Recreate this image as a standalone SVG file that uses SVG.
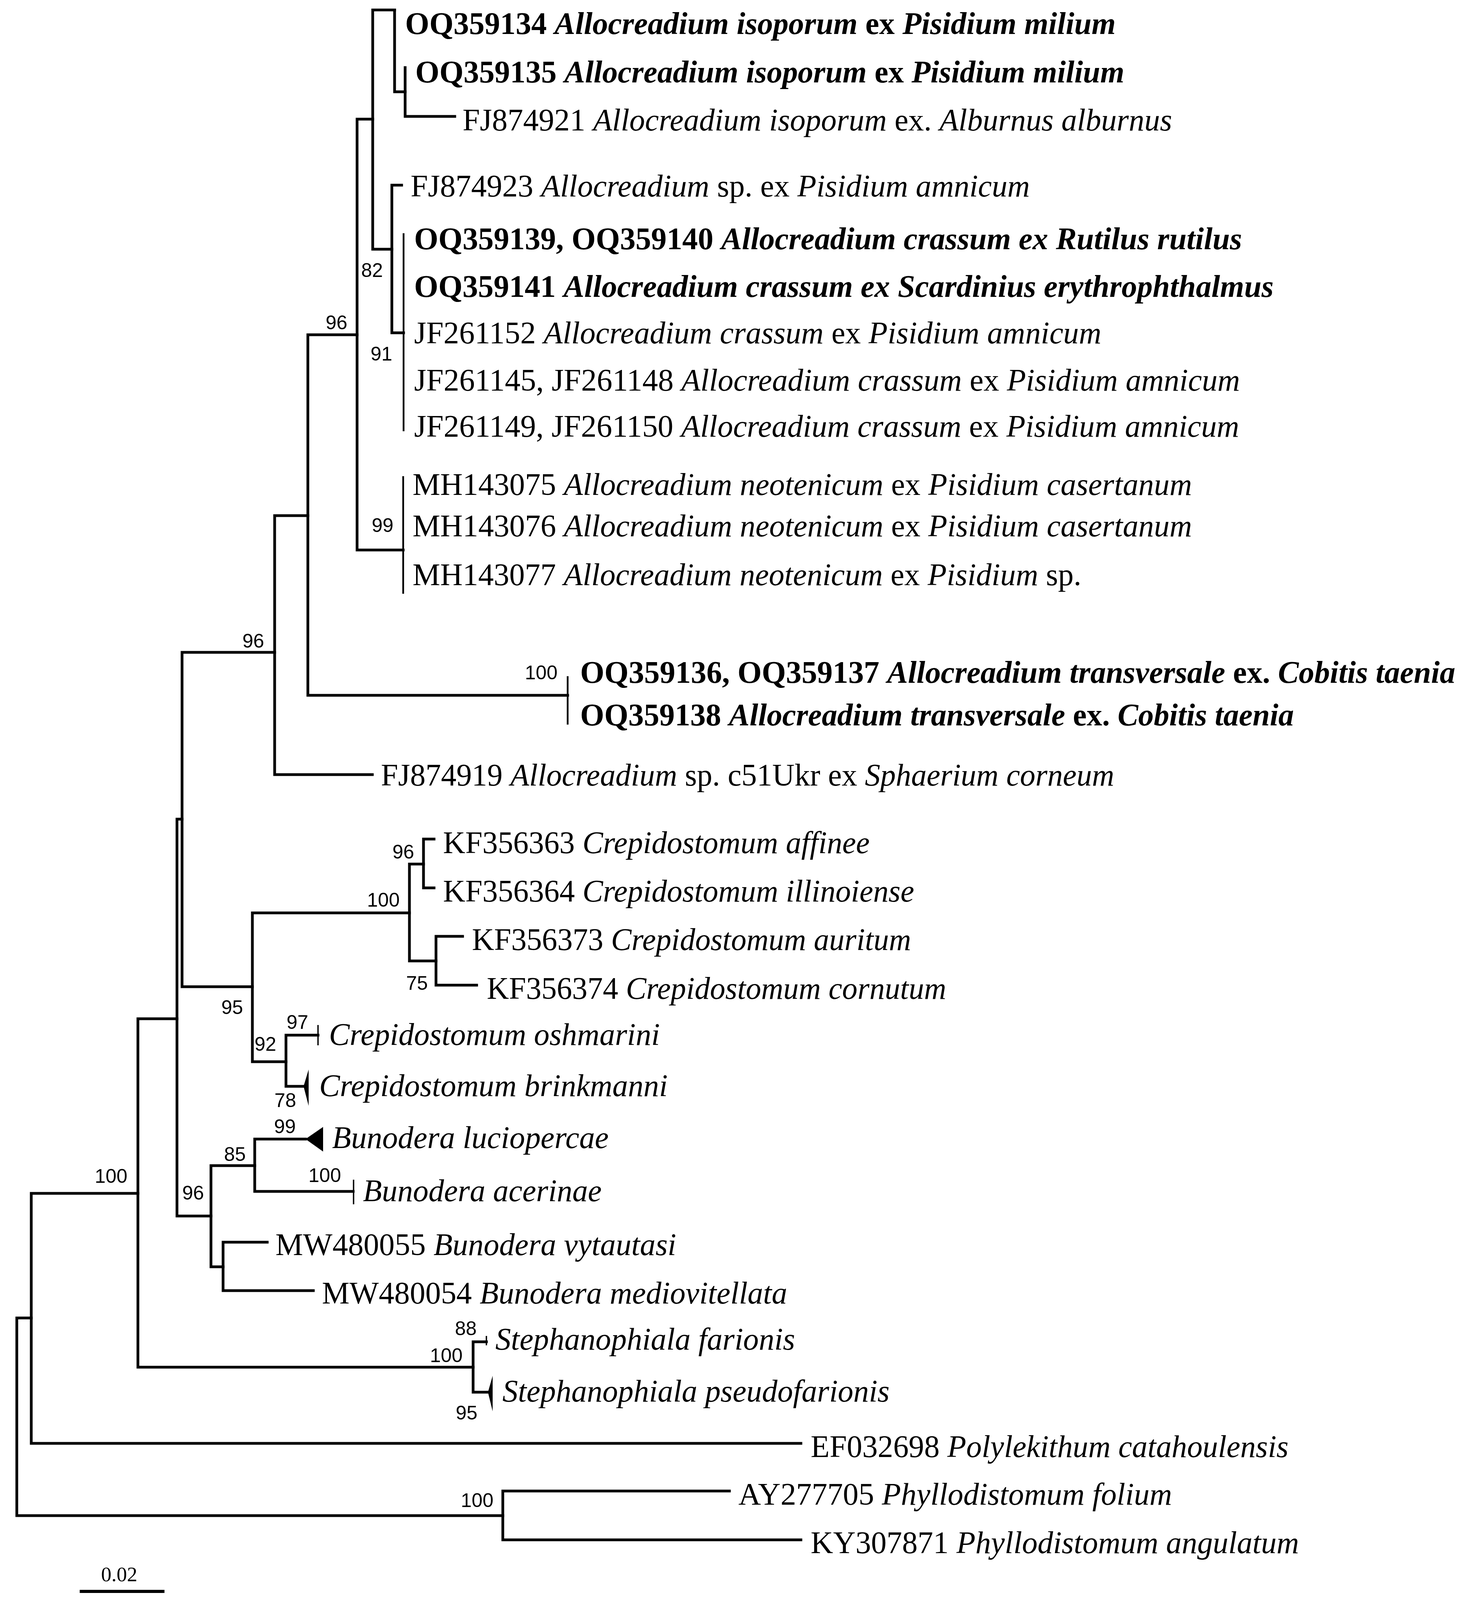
<svg xmlns="http://www.w3.org/2000/svg" width="3755" height="4187" viewBox="0 0 3755 4187">
<style>
.br{fill:none;stroke:#000;stroke-width:7;stroke-linecap:square;stroke-linejoin:miter}
.thin{fill:none;stroke:#000;stroke-width:4.5}
.tk{fill:none;stroke:#000;stroke-width:3.5}
.tri{fill:#000;stroke:none}
.lab{font-family:"Liberation Serif","Times New Roman",serif;font-size:80px;fill:#000}
.b{font-weight:bold}
.i{font-style:italic}
.bs{font-family:"Liberation Sans",Arial,sans-serif;font-size:50px;fill:#000;text-anchor:end}
</style>
<rect width="3755" height="4187" fill="#fff"/>
<g id="connectors">
<path class="br" d="M80,3374 H43 V3880 H1287"/>
<path class="br" d="M353,3055 H80 V3695 H2050"/>
<path class="br" d="M1867,3817 H1287 V3942 H2050"/>
<path class="br" d="M453,2608 H353 V3500 H1211"/>
<path class="br" d="M466,2097 H453 V3113 H540"/>
<path class="br" d="M703,1670 H466 V2526 H646"/>
<path class="br" d="M788,1320 H703 V1983 H953"/>
<path class="br" d="M914,857 H788 V1780 H1453"/>
<path class="thin" d="M1453,1731 V1855"/>
<path class="br" d="M954,305 H914 V1408 H1032"/>
<path class="thin" d="M1032,1219 V1520"/>
<path class="br" d="M1010,25.5 H954 V638 H1003"/>
<path class="br" d="M1010,25.5 V235 H1037"/>
<path class="br" d="M1037,173 V298 H1164"/>
<path class="br" d="M1028,474 H1003 V852 H1033"/>
<path class="thin" d="M1033,597 V1104"/>
<path class="br" d="M1048,2337 H646 V2718 H732"/>
<path class="br" d="M1084,2212 H1048 V2460 H1116"/>
<path class="br" d="M1111,2148 H1084 V2273 H1111"/>
<path class="br" d="M1184,2397 H1116 V2522 H1220"/>
<path class="br" d="M814,2650 H732 V2781 H777"/>
<path class="tk" d="M814,2624 V2676"/>
<path class="tri" d="M777,2781 L790,2738 L790,2831 Z"/>
<path class="br" d="M652,2984 H540 V3243 H571"/>
<path class="br" d="M782,2916 H652 V3050 H904"/>
<path class="tri" d="M782,2916 L827,2885 L827,2948 Z"/>
<path class="tk" d="M905,3020 V3083"/>
<path class="br" d="M684,3180 H571 V3304 H802"/>
<path class="br" d="M1245,3435 H1211 V3564 H1249"/>
<path class="tk" d="M1245,3420 V3444"/>
<path class="tri" d="M1249,3564 L1261,3522 L1261,3613 Z"/>
</g>
<g id="bootstrap">
<text class="bs" x="980" y="709">82</text>
<text class="bs" x="1004" y="923">91</text>
<text class="bs" x="1007" y="1362">99</text>
<text class="bs" x="889" y="843">96</text>
<text class="bs" x="1427" y="1739">100</text>
<text class="bs" x="676" y="1658">96</text>
<text class="bs" x="1060" y="2198">96</text>
<text class="bs" x="1023" y="2321">100</text>
<text class="bs" x="1095" y="2534">75</text>
<text class="bs" x="622" y="2596">95</text>
<text class="bs" x="789" y="2634">97</text>
<text class="bs" x="707" y="2690">92</text>
<text class="bs" x="758" y="2834">78</text>
<text class="bs" x="757" y="2901">99</text>
<text class="bs" x="629" y="2972">85</text>
<text class="bs" x="873" y="3026">100</text>
<text class="bs" x="522" y="3071">96</text>
<text class="bs" x="326" y="3028">100</text>
<text class="bs" x="1220" y="3418">88</text>
<text class="bs" x="1184" y="3487">100</text>
<text class="bs" x="1222" y="3634">95</text>
<text class="bs" x="1263" y="3858">100</text>
</g>
<g id="taxon-OQ359134"><text class="lab b" x="1037" y="87" textLength="1819" lengthAdjust="spacingAndGlyphs">OQ359134 <tspan class="i">Allocreadium isoporum</tspan> ex <tspan class="i">Pisidium milium</tspan></text></g>
<g id="taxon-OQ359135"><text class="lab b" x="1063" y="211" textLength="1815" lengthAdjust="spacingAndGlyphs">OQ359135 <tspan class="i">Allocreadium isoporum</tspan> ex <tspan class="i">Pisidium milium</tspan></text></g>
<g id="taxon-FJ874921"><text class="lab" x="1184" y="334" textLength="1816" lengthAdjust="spacingAndGlyphs">FJ874921 <tspan class="i">Allocreadium isoporum</tspan> ex. <tspan class="i">Alburnus alburnus</tspan></text></g>
<g id="taxon-FJ874923"><text class="lab" x="1051" y="503" textLength="1585" lengthAdjust="spacingAndGlyphs">FJ874923 <tspan class="i">Allocreadium</tspan> sp. ex <tspan class="i">Pisidium amnicum</tspan></text></g>
<g id="taxon-OQ359139"><text class="lab b" x="1060" y="638" textLength="2119" lengthAdjust="spacingAndGlyphs">OQ359139, OQ359140 <tspan class="i">Allocreadium crassum ex Rutilus rutilus</tspan></text></g>
<g id="taxon-OQ359141"><text class="lab b" x="1060" y="760" textLength="2200" lengthAdjust="spacingAndGlyphs">OQ359141 <tspan class="i">Allocreadium crassum ex Scardinius erythrophthalmus</tspan></text></g>
<g id="taxon-JF261152"><text class="lab" x="1060" y="879" textLength="1759" lengthAdjust="spacingAndGlyphs">JF261152 <tspan class="i">Allocreadium crassum</tspan> ex <tspan class="i">Pisidium amnicum</tspan></text></g>
<g id="taxon-JF261145"><text class="lab" x="1060" y="1000" textLength="2114" lengthAdjust="spacingAndGlyphs">JF261145, JF261148 <tspan class="i">Allocreadium crassum</tspan> ex <tspan class="i">Pisidium amnicum</tspan></text></g>
<g id="taxon-JF261149"><text class="lab" x="1060" y="1118" textLength="2112" lengthAdjust="spacingAndGlyphs">JF261149, JF261150 <tspan class="i">Allocreadium crassum</tspan> ex <tspan class="i">Pisidium amnicum</tspan></text></g>
<g id="taxon-MH143075"><text class="lab" x="1056" y="1267" textLength="1995" lengthAdjust="spacingAndGlyphs">MH143075 <tspan class="i">Allocreadium neotenicum</tspan> ex <tspan class="i">Pisidium casertanum</tspan></text></g>
<g id="taxon-MH143076"><text class="lab" x="1056" y="1373" textLength="1995" lengthAdjust="spacingAndGlyphs">MH143076 <tspan class="i">Allocreadium neotenicum</tspan> ex <tspan class="i">Pisidium casertanum</tspan></text></g>
<g id="taxon-MH143077"><text class="lab" x="1056" y="1498" textLength="1712" lengthAdjust="spacingAndGlyphs">MH143077 <tspan class="i">Allocreadium neotenicum</tspan> ex <tspan class="i">Pisidium</tspan> sp.</text></g>
<g id="taxon-OQ359136"><text class="lab b" x="1485" y="1748" textLength="2240" lengthAdjust="spacingAndGlyphs">OQ359136, OQ359137 <tspan class="i">Allocreadium transversale</tspan> ex. <tspan class="i">Cobitis taenia</tspan></text></g>
<g id="taxon-OQ359138"><text class="lab b" x="1485" y="1857" textLength="1827" lengthAdjust="spacingAndGlyphs">OQ359138 <tspan class="i">Allocreadium transversale</tspan> ex. <tspan class="i">Cobitis taenia</tspan></text></g>
<g id="taxon-FJ874919"><text class="lab" x="975" y="2011" textLength="1877" lengthAdjust="spacingAndGlyphs">FJ874919 <tspan class="i">Allocreadium</tspan> sp. c51Ukr ex <tspan class="i">Sphaerium corneum</tspan></text></g>
<g id="taxon-KF356363"><text class="lab" x="1134" y="2184" textLength="1092" lengthAdjust="spacingAndGlyphs">KF356363 <tspan class="i">Crepidostomum affinee</tspan></text></g>
<g id="taxon-KF356364"><text class="lab" x="1134" y="2308" textLength="1206" lengthAdjust="spacingAndGlyphs">KF356364 <tspan class="i">Crepidostomum illinoiense</tspan></text></g>
<g id="taxon-KF356373"><text class="lab" x="1208" y="2432" textLength="1124" lengthAdjust="spacingAndGlyphs">KF356373 <tspan class="i">Crepidostomum auritum</tspan></text></g>
<g id="taxon-KF356374"><text class="lab" x="1246" y="2557" textLength="1176" lengthAdjust="spacingAndGlyphs">KF356374 <tspan class="i">Crepidostomum cornutum</tspan></text></g>
<g id="taxon-C-oshmarini"><text class="lab i" x="842" y="2675" textLength="847" lengthAdjust="spacingAndGlyphs">Crepidostomum oshmarini</text></g>
<g id="taxon-C-brinkmanni"><text class="lab i" x="817" y="2806" textLength="892" lengthAdjust="spacingAndGlyphs">Crepidostomum brinkmanni</text></g>
<g id="taxon-B-luciopercae"><text class="lab i" x="850" y="2939" textLength="708" lengthAdjust="spacingAndGlyphs">Bunodera luciopercae</text></g>
<g id="taxon-B-acerinae"><text class="lab i" x="929" y="3075" textLength="611" lengthAdjust="spacingAndGlyphs">Bunodera acerinae</text></g>
<g id="taxon-MW480055"><text class="lab" x="705" y="3213" textLength="1026" lengthAdjust="spacingAndGlyphs">MW480055 <tspan class="i">Bunodera vytautasi</tspan></text></g>
<g id="taxon-MW480054"><text class="lab" x="824" y="3337" textLength="1191" lengthAdjust="spacingAndGlyphs">MW480054 <tspan class="i">Bunodera mediovitellata</tspan></text></g>
<g id="taxon-S-farionis"><text class="lab i" x="1268" y="3455" textLength="767" lengthAdjust="spacingAndGlyphs">Stephanophiala farionis</text></g>
<g id="taxon-S-pseudofarionis"><text class="lab i" x="1286" y="3588" textLength="991" lengthAdjust="spacingAndGlyphs">Stephanophiala pseudofarionis</text></g>
<g id="taxon-EF032698"><text class="lab" x="2075" y="3730" textLength="1223" lengthAdjust="spacingAndGlyphs">EF032698 <tspan class="i">Polylekithum catahoulensis</tspan></text></g>
<g id="taxon-AY277705"><text class="lab" x="1890" y="3852" textLength="1110" lengthAdjust="spacingAndGlyphs">AY277705 <tspan class="i">Phyllodistomum folium</tspan></text></g>
<g id="taxon-KY307871"><text class="lab" x="2075" y="3976" textLength="1250" lengthAdjust="spacingAndGlyphs">KY307871 <tspan class="i">Phyllodistomum angulatum</tspan></text></g>
<g id="scale-bar">
<path d="M204,4074 H421" stroke="#000" stroke-width="8" fill="none"/>
<text x="305" y="4048" font-family="Liberation Serif, Times New Roman, serif" font-size="53" text-anchor="middle">0.02</text>
</g>
</svg>
